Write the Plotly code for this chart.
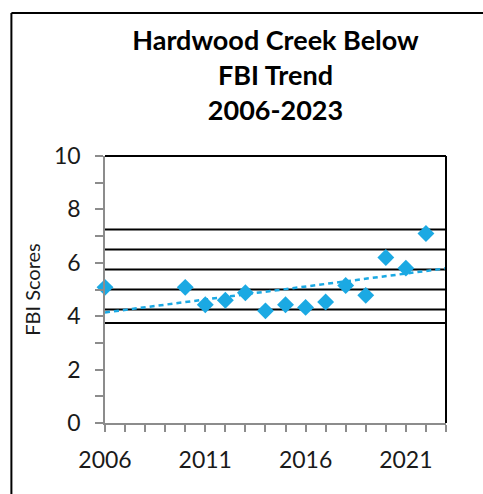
import numpy as np
import plotly.graph_objects as go

years = [2006, 2010, 2011, 2012, 2013, 2014, 2015, 2016, 2017, 2018, 2019, 2020, 2021, 2022]
fbi_scores = [5.08, 5.08, 4.43, 4.6, 4.88, 4.2, 4.43, 4.33, 4.53, 5.15, 4.78, 6.2, 5.8, 7.1]
thresholds = [7.25, 6.5, 5.75, 5.0, 4.25, 3.75]
x_range = [2006, 2023]
y_range = [0, 10]
x_ticks = list(range(2006, 2024))
x_labels = ["2006", "2011", "2016", "2021"]
y_ticks = list(range(0, 11))
y_labels = ["0", "2", "4", "6", "8", "10"]

blue = "#1BA9E3"
font = "Lato, Open Sans, sans-serif"

fig = go.Figure()

for t in thresholds:
    fig.add_trace(go.Scatter(x=x_range, y=[t, t], mode="lines",
                             line=dict(color="black", width=2),
                             hoverinfo="skip", showlegend=False))

slope, intercept = np.polyfit(years, fbi_scores, 1)
trend_x = np.array(x_range, dtype=float)
trend_y = slope * trend_x + intercept
fig.add_trace(go.Scatter(x=trend_x, y=trend_y, mode="lines",
                         line=dict(color=blue, width=2.5, dash="5px,4px"),
                         showlegend=False, hoverinfo="skip"))

fig.add_trace(go.Scatter(x=years, y=fbi_scores, mode="markers",
                         marker=dict(symbol="diamond", size=13, color=blue),
                         cliponaxis=False, showlegend=False))

W, H = 483, 494
fig.update_layout(
    width=W, height=H,
    margin=dict(l=105, r=37, t=156, b=71, autoexpand=False),
    paper_bgcolor="white", plot_bgcolor="white",
    font=dict(family=font, color="#1a1a1a"),
    title=dict(text="Hardwood Creek Below<br>FBI Trend<br>2006-2023",
               x=0.5, xanchor="center", xref="paper",
               y=1 - 50 / H, yanchor="middle",
               font=dict(family=font, size=27, color="black", weight="bold")),
)

fig.update_xaxes(range=x_range, tickmode="array", tickvals=x_ticks,
                 ticktext=[str(v) if str(v) in x_labels else "" for v in x_ticks],
                 ticks="outside", ticklen=7, tickcolor="#8c8c8c", tickwidth=1.5,
                 showline=True, linecolor="#8c8c8c", linewidth=1.5,
                 showgrid=False, zeroline=False, automargin=False,
                 tickfont=dict(size=23, family=font, color="#1a1a1a"),
                 ticklabelstandoff=9)
fig.update_yaxes(range=y_range, tickmode="array", tickvals=y_ticks,
                 ticktext=[str(v) if str(v) in y_labels else "" for v in y_ticks],
                 ticks="outside", ticklen=8, tickcolor="#8c8c8c", tickwidth=1.5,
                 showline=True, linecolor="#8c8c8c", linewidth=1.5,
                 showgrid=False, zeroline=False, automargin=False,
                 tickfont=dict(size=23, family=font, color="#1a1a1a"),
                 ticklabelstandoff=10,
                 title=dict(text="FBI Scores", font=dict(size=20, family=font, color="#1a1a1a"),
                            standoff=8))

# top and right plot border in black
fig.add_shape(type="line", xref="paper", yref="paper", x0=0, x1=1, y0=1, y1=1,
              line=dict(color="black", width=2))
fig.add_shape(type="line", xref="paper", yref="paper", x0=1, x1=1, y0=0, y1=1,
              line=dict(color="black", width=2))
# outer chart frame (left and top visible; right/bottom run off the page)
fig.add_shape(type="line", xref="paper", yref="paper",
              x0=-0.2745, x1=1.2, y0=1.536, y1=1.536,
              line=dict(color="black", width=2), layer="below")
fig.add_shape(type="line", xref="paper", yref="paper",
              x0=-0.2745, x1=-0.2745, y0=-0.3, y1=1.536,
              line=dict(color="black", width=2), layer="below")

fig.write_html("out.html", config={"displayModeBar": False},
               post_script="document.body.style.margin='0';document.body.style.overflow='hidden';")
